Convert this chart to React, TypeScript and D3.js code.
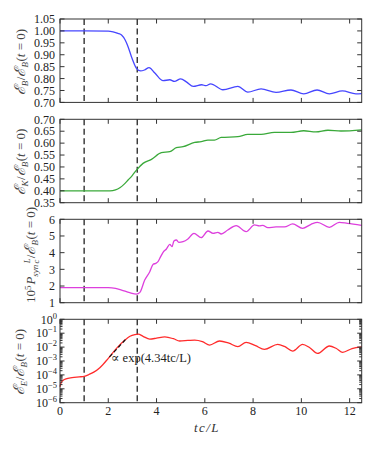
import React, { useEffect, useRef } from 'react';
import * as d3 from 'd3';

// time axis tick values (tc/L)
const xTicks = [0, 2, 4, 6, 8, 10, 12];
const xDomain = [0, 12.5];
// times of the two vertical dashed markers
const markerTimes = [1, 3.2];

// magnetic energy E_B / E_B(t=0)
const tMag = [0, 1, 2.0, 2.2, 2.4, 2.55, 2.7, 2.82, 2.98, 3.16, 3.34, 3.5, 3.69, 3.93, 4.27, 4.55, 4.74, 5.0, 5.25, 5.52, 5.87, 6.05, 6.24, 6.75, 7.37, 7.78, 8.33, 8.95, 9.57, 10.1, 10.65, 11.16, 11.7, 12.26, 12.5];
const eMag = [1.0, 1.0, 0.999, 0.996, 0.99, 0.983, 0.962, 0.934, 0.886, 0.844, 0.832, 0.836, 0.846, 0.823, 0.791, 0.795, 0.788, 0.799, 0.785, 0.767, 0.774, 0.77, 0.778, 0.753, 0.767, 0.743, 0.757, 0.742, 0.752, 0.736, 0.752, 0.736, 0.748, 0.736, 0.737];

// kinetic energy E_K / E_B(t=0)
const tKin = [0, 1, 2.07, 2.3, 2.48, 2.65, 2.82, 3.0, 3.17, 3.44, 3.79, 4.2, 4.55, 4.82, 5.1, 5.58, 5.85, 6.13, 6.4, 6.68, 7.37, 7.78, 8.33, 8.88, 9.57, 10.1, 10.6, 11.1, 11.64, 12.5];
const eKin = [0.40, 0.40, 0.40, 0.404, 0.413, 0.427, 0.445, 0.465, 0.487, 0.515, 0.532, 0.560, 0.564, 0.581, 0.585, 0.603, 0.606, 0.613, 0.613, 0.624, 0.627, 0.637, 0.637, 0.645, 0.645, 0.652, 0.647, 0.654, 0.651, 0.656];

// synchrotron power 10^5 P_syn L/c / E_B(t=0)
const tSyn = [0, 1, 2.0, 2.3, 2.55, 2.89, 3.17, 3.31, 3.51, 3.72, 3.86, 3.97, 4.06, 4.17, 4.27, 4.41, 4.55, 4.64, 4.72, 4.82, 4.92, 5.1, 5.3, 5.55, 5.85, 6.13, 6.34, 6.54, 6.68, 6.95, 7.3, 7.71, 8.06, 8.26, 8.4, 8.61, 8.95, 9.3, 9.64, 10.05, 10.4, 10.67, 11.16, 11.57, 11.91, 12.5];
const pSyn = [1.90, 1.90, 1.90, 1.86, 1.76, 1.60, 1.52, 1.62, 2.36, 2.86, 3.30, 3.36, 3.46, 3.76, 4.02, 4.22, 4.50, 4.36, 4.70, 4.76, 4.62, 4.66, 4.82, 5.16, 4.90, 5.30, 5.16, 5.22, 5.12, 5.36, 5.62, 5.26, 5.66, 5.60, 5.64, 5.50, 5.54, 5.54, 5.72, 5.46, 5.70, 5.82, 5.52, 5.82, 5.76, 5.64];

// electric energy E_E / E_B(t=0)
const tEle = [0, 0.05, 0.12, 0.25, 0.5, 0.8, 1.0, 1.2, 1.4, 1.65, 2.0, 2.34, 2.69, 2.9, 3.1, 3.24, 3.44, 3.72, 4.0, 4.34, 4.7, 4.96, 5.3, 5.58, 5.9, 6.2, 6.61, 7.0, 7.37, 7.71, 8.1, 8.47, 9.02, 9.3, 9.64, 10.05, 10.35, 10.67, 11.16, 11.45, 11.71, 12.1, 12.5];
const eEle = [1.4e-5, 2.8e-5, 4.0e-5, 5.2e-5, 6.3e-5, 7.2e-5, 7.9e-5, 1.07e-4, 1.58e-4, 3.3e-4, 1.55e-3, 8.1e-3, 3.2e-2, 6.0e-2, 7.9e-2, 8.5e-2, 6.0e-2, 3.8e-2, 4.4e-2, 5.4e-2, 4.0e-2, 2.75e-2, 3.0e-2, 3.2e-2, 2.5e-2, 1.4e-2, 2.75e-2, 1.9e-2, 1.07e-2, 2.2e-2, 1.26e-2, 6.9e-3, 1.58e-2, 1.12e-2, 5.2e-3, 1.58e-2, 8.9e-3, 3.5e-3, 1.2e-2, 7.9e-3, 4.2e-3, 7.9e-3, 1.05e-2];

// exponential fit  E_E ∝ exp(4.34 tc/L)
const fitRate = 4.34;
const fitRange = [2.05, 2.72];
const fitStartValue = 1.95e-3;

const W = 374, H = 449;
const left = 60, right = 361.7;
const panelTops = [19, 119.3, 219.3, 319.3];
const panelH = 83.4;
const serif = 'Liberation Serif, DejaVu Serif, serif';
const scriptFont = 'DejaVu Serif, serif';
const tickFont = 12;
const labelFont = 13;

type Panel = {
  t: number[];
  v: number[];
  color: string;
  domain: number[];
  ticks: number[];
  fmt: (d: number) => string;
  labelX: number;
  labelY: number;
  log?: boolean;
};

const panels: Panel[] = [
  { t: tMag, v: eMag, color: '#4646ff', domain: [0.70, 1.05], ticks: d3.range(14, 22).map(d => d * 0.05), fmt: d3.format('.2f'), labelX: 25, labelY: 62 },
  { t: tKin, v: eKin, color: '#3aa93a', domain: [0.35, 0.70], ticks: d3.range(7, 15).map(d => d * 0.05), fmt: d3.format('.2f'), labelX: 25, labelY: 162 },
  { t: tSyn, v: pSyn, color: '#dd3fdd', domain: [1, 6], ticks: [1, 2, 3, 4, 5, 6], fmt: d3.format('d'), labelX: 35, labelY: 255 },
  { t: tEle, v: eEle, color: '#ff2b2b', domain: [1e-6, 1], ticks: [1e-6, 1e-5, 1e-4, 1e-3, 1e-2, 1e-1, 1], fmt: d => '', labelX: 24, labelY: 362, log: true },
];

export default function App() {
  const ref = useRef<SVGSVGElement>(null);

  useEffect(() => {
    const svg = d3.select(ref.current);
    svg.selectAll('*').remove();

    const x = d3.scaleLinear().domain(xDomain).range([left, right]);
    const tickLen = 4.5;

    panels.forEach((p, i) => {
      const top = panelTops[i];
      const bottom = top + panelH;
      const y: any = p.log
        ? d3.scaleLog().domain(p.domain).range([bottom, top])
        : d3.scaleLinear().domain(p.domain).range([bottom, top]);
      const g = svg.append('g');

      // vertical dashed markers
      markerTimes.forEach(mt => {
        g.append('line')
          .attr('x1', x(mt)).attr('x2', x(mt))
          .attr('y1', top).attr('y2', bottom)
          .attr('stroke', '#222')
          .attr('stroke-width', 1.3)
          .attr('stroke-dasharray', '6,3.5');
      });

      // series
      const line = d3.line<number>()
        .x((d, k) => x(p.t[k]))
        .y(d => y(d))
        .curve(d3.curveMonotoneX);
      g.append('path')
        .attr('d', line(p.v))
        .attr('fill', 'none')
        .attr('stroke', p.color)
        .attr('stroke-width', 1.3);

      // fit line on the log panel
      if (p.log) {
        const ft = d3.range(fitRange[0], fitRange[1] + 0.001, 0.01);
        const fitLine = d3.line<number>()
          .x(d => x(d))
          .y(d => y(fitStartValue * Math.exp(fitRate * (d - fitRange[0]))));
        g.append('path')
          .attr('d', fitLine(ft))
          .attr('fill', 'none')
          .attr('stroke', '#111')
          .attr('stroke-width', 1.2)
          .attr('stroke-dasharray', '4,2.5');
        g.append('text')
          .attr('x', 111)
          .attr('y', 361.5)
          .attr('font-family', serif)
          .attr('font-size', 12.5)
          .attr('fill', '#222')
          .text(`∝ exp(${fitRate}tc/L)`);
      }

      // frame
      g.append('rect')
        .attr('x', left).attr('y', top)
        .attr('width', right - left).attr('height', panelH)
        .attr('fill', 'none')
        .attr('stroke', '#333')
        .attr('stroke-width', 1);

      // x ticks top & bottom
      xTicks.forEach(xt => {
        g.append('line').attr('x1', x(xt)).attr('x2', x(xt)).attr('y1', bottom).attr('y2', bottom - tickLen).attr('stroke', '#333');
        g.append('line').attr('x1', x(xt)).attr('x2', x(xt)).attr('y1', top).attr('y2', top + tickLen).attr('stroke', '#333');
      });

      // y ticks left & right
      const yTickLine = (v: number, len: number) => {
        g.append('line').attr('x1', left).attr('x2', left + len).attr('y1', y(v)).attr('y2', y(v)).attr('stroke', '#333');
        g.append('line').attr('x1', right).attr('x2', right - len).attr('y1', y(v)).attr('y2', y(v)).attr('stroke', '#333');
      };
      p.ticks.forEach(v => yTickLine(v, tickLen));
      if (p.log) {
        y.ticks().filter((v: number) => !p.ticks.some(m => Math.abs(m - v) / v < 1e-6))
          .forEach((v: number) => yTickLine(v, 2.5));
      }

      // y tick labels
      p.ticks.forEach(v => {
        const t = g.append('text')
          .attr('x', p.log ? 57 : 55)
          .attr('y', y(v) + 4.2)
          .attr('text-anchor', 'end')
          .attr('font-family', serif)
          .attr('font-size', tickFont)
          .attr('fill', '#222');
        if (p.log) {
          const e = Math.round(Math.log10(v));
          t.append('tspan').text('10');
          t.append('tspan').attr('font-size', 8.5).attr('dy', -5).text(e < 0 ? `−${-e}` : `${e}`);
        } else {
          t.text(p.fmt(v));
        }
      });

      // x tick labels on last panel
      if (i === panels.length - 1) {
        xTicks.forEach(xt => {
          g.append('text')
            .attr('x', x(xt))
            .attr('y', bottom + 12.3)
            .attr('text-anchor', 'middle')
            .attr('font-family', serif)
            .attr('font-size', tickFont)
            .attr('fill', '#222')
            .text(xt);
        });
      }
    });

    // y axis labels (rotated, built from tspans with explicit shifts)
    const labelText = (i: number) => {
      const p = panels[i];
      return svg.append('text')
        .attr('transform', `translate(${p.labelX},${p.labelY}) rotate(-90)`)
        .attr('text-anchor', 'middle')
        .attr('font-family', serif)
        .attr('font-size', labelFont)
        .attr('fill', '#444');
    };
    const span = (t: any, s: string, opt: { dy?: number; dx?: number; size?: number; italic?: boolean; script?: boolean } = {}) => {
      const sp = t.append('tspan').text(s);
      if (opt.dy) sp.attr('dy', opt.dy);
      if (opt.dx) sp.attr('dx', opt.dx);
      if (opt.size) sp.attr('font-size', opt.size);
      if (opt.italic) sp.attr('font-style', 'italic');
      if (opt.script) sp.attr('font-family', scriptFont).attr('font-style', 'italic');
    };
    const subSize = 9;
    const ratioTail = (t: any) => {
      span(t, '/', { dy: -3, dx: 0.5 });
      span(t, 'ℰ', { script: true, size: 15 });
      span(t, 'B', { dy: 3, size: subSize, italic: true });
      span(t, '(', { dy: -3, dx: 0.5 });
      span(t, 't', { italic: true });
      span(t, ' = 0)');
    };
    [0, 1, 3].forEach(i => {
      const t = labelText(i);
      span(t, 'ℰ', { script: true, size: 15 });
      span(t, ['B', 'K', '', 'E'][i], { dy: 3, size: subSize, italic: true });
      ratioTail(t);
    });
    {
      const t = labelText(2);
      span(t, '10');
      span(t, '5', { dy: -4.5, size: subSize });
      span(t, 'P', { dy: 4.5, dx: 1, italic: true });
      span(t, 'syn', { dy: 3, size: subSize, italic: true });
      span(t, 'L', { dy: -8, dx: 1.5, size: 8.5, italic: true });
      span(t, 'c', { dy: 9, dx: -5, size: 8.5, italic: true });
      span(t, '/', { dy: -4, dx: 1.5 });
      span(t, 'ℰ', { script: true, size: 15 });
      span(t, 'B', { dy: 3, size: subSize, italic: true });
      span(t, '(', { dy: -3, dx: 0.5 });
      span(t, 't', { italic: true });
      span(t, ' = 0)');
    }

    // x axis label
    svg.append('text')
      .attr('x', 207)
      .attr('y', 432)
      .attr('text-anchor', 'middle')
      .attr('font-family', serif)
      .attr('font-size', 13)
      .attr('font-style', 'italic')
      .attr('letter-spacing', 1.5)
      .attr('fill', '#333')
      .text('tc/L');
  }, []);

  return (
    <svg ref={ref} width={W} height={H}
      style={{ position: 'absolute', left: 0, top: 0, background: '#fff' }} />
  );
}
